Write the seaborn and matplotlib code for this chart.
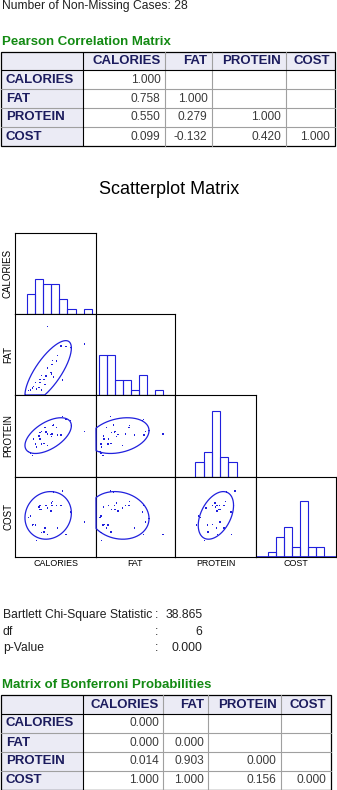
import numpy as np
import pandas as pd
import matplotlib
matplotlib.use("Agg")
import matplotlib.pyplot as plt
from matplotlib.patches import Rectangle
import seaborn as sns

# ---------------------------------------------------------------- data
VARIABLES = ["CALORIES", "FAT", "PROTEIN", "COST"]
N_CASES = 28

calories = [226, 455, 309, 341, 288, 257, 284, 255, 226, 247, 253, 263, 191, 216,
            181, 205, 154, 180, 210, 133, 123, 370, 320, 110, 140, 160, 175, 190]
fat = [39.8, 29.0, 27.9, 27.6, 22.1, 19.0, 18.6, 16.5, 14.4, 11.7, 10.6, 9.0, 9.8, 9.6,
       7.5, 7.3, 5.4, 5.6, 4.4, 2.3, 0.9, 27.0, 7.0, 0.5, 3.0, 1.5, 2.5, 1.0]
protein = [23.5, 24.8, 22.7, 32.0, 22.7, 28.4, 27.3, 23.5, 16.5, 23.0, 21.8, 28.9, 24.8, 24.6,
           24.3, 17.8, 17.3, 20.3, 27.3, 10.6, 12.0, 31.5, 34.0, 13.0, 20.3, 15.7, 22.3, 17.3]
cost = [1.65, 2.42, 3.45, 1.65, 2.05, 3.70, 3.45, 3.45, 3.30, 3.10, 3.60, 4.29, 3.20, 3.45,
        3.20, 1.80, 2.23, 3.45, 2.05, 2.23, 2.80, 3.05, 4.36, 2.70, 2.27, 1.25, 3.35, 1.75]

# lower triangle of the Pearson correlation matrix
pearson_r = [[1.000],
             [0.758, 1.000],
             [0.550, 0.279, 1.000],
             [0.099, -0.132, 0.420, 1.000]]
# lower triangle of the Bonferroni-adjusted probabilities
bonferroni_p = [[0.000],
                [0.000, 0.000],
                [0.014, 0.903, 0.000],
                [1.000, 1.000, 0.156, 0.000]]
bartlett_chi2 = 38.865
bartlett_df = 6
bartlett_p = 0.000

axis_limits = {"CALORIES": (25.7, 526.6), "FAT": (-2.1, 47.3),
               "PROTEIN": (-2.3, 46.7), "COST": (0.23, 5.23)}
bin_edges = {"CALORIES": np.arange(100, 501, 50), "FAT": np.arange(0, 41, 5),
             "PROTEIN": np.arange(10, 36, 5), "COST": np.arange(1.0, 4.51, 0.5)}
ELLIPSE_P = 0.80

# ---------------------------------------------------------------- style
sns.set_style("white")
plt.rcParams["font.family"] = ["Liberation Sans", "DejaVu Sans"]

BLUE = "#2020dd"
GREEN = "#138a13"
NAVY = "#1c1c5e"
VALUE_COLOR = "#3a3a3a"
HEADER_BG = "#ebebf5"
GRID_LINE = "#a0a0a0"

W, H = 337, 790
fig = plt.figure(figsize=(W / 100, H / 100), dpi=100)


def px_rect(x0, y0, x1, y1):
    return [x0 / W, 1 - y1 / H, (x1 - x0) / W, (y1 - y0) / H]


canvas = fig.add_axes([0, 0, 1, 1])
canvas.set_xlim(0, W)
canvas.set_ylim(H, 0)
canvas.axis("off")

canvas.text(2, 6, f"Number of Non-Missing Cases: {N_CASES}", fontsize=8.7,
            ha="left", va="center", color="#202020")


def draw_table(title, title_y, values, col_edges, row_edges):
    canvas.text(2.5, title_y, title, color=GREEN, fontsize=9.5, fontweight="bold",
                ha="left", va="center")
    x0, x1 = col_edges[0], col_edges[-1]
    y0, y1 = row_edges[0], row_edges[-1]
    canvas.add_patch(Rectangle((x0, y0), x1 - x0, row_edges[1] - y0,
                               facecolor=HEADER_BG, edgecolor="none"))
    canvas.add_patch(Rectangle((x0, row_edges[1]), col_edges[1] - x0, y1 - row_edges[1],
                               facecolor=HEADER_BG, edgecolor="none"))
    for x in col_edges[2:-1]:
        canvas.plot([x, x], [y0, y1], color=GRID_LINE, lw=0.8)
    for y in row_edges[2:-1]:
        canvas.plot([x0, x1], [y, y], color=GRID_LINE, lw=0.8)
    canvas.plot([x0, x1], [row_edges[1]] * 2, color="black", lw=0.8)
    canvas.plot([col_edges[1]] * 2, [y0, y1], color="black", lw=0.8)
    canvas.add_patch(Rectangle((x0, y0), x1 - x0, y1 - y0, facecolor="none",
                               edgecolor="black", lw=0.9))
    hy = (row_edges[0] + row_edges[1]) / 2
    for j, name in enumerate(VARIABLES):
        canvas.text(col_edges[j + 2] - 4.5, hy, name, ha="right", va="center",
                    fontsize=9.5, fontweight="bold", color=NAVY)
    for i, name in enumerate(VARIABLES):
        yc = (row_edges[i + 1] + row_edges[i + 2]) / 2
        canvas.text(6, yc, name, ha="left", va="center", fontsize=9.5,
                    fontweight="bold", color=NAVY)
        for j, v in enumerate(values[i]):
            canvas.text(col_edges[j + 2] - 4.5, yc, f"{v:.3f}", ha="right",
                        va="center", fontsize=8.6, color=VALUE_COLOR)


draw_table("Pearson Correlation Matrix", 42, pearson_r,
           [1, 82.7, 165, 212, 285.7, 334.5], [51.7, 70, 89.3, 108, 127, 146])

# ---------------------------------------------------------------- scatterplot matrix
canvas.text(169, 190, "Scatterplot Matrix", fontsize=13, ha="center", va="center",
            color="black")

data = pd.DataFrame({"CALORIES": calories, "FAT": fat, "PROTEIN": protein, "COST": cost})
col_x = [15, 96, 175, 256, 336]
row_y = [233, 314, 395, 477, 557]
COUNT_PX = 5.05
k = np.sqrt(-2 * np.log(1 - ELLIPSE_P))
t = np.linspace(0, 2 * np.pi, 400)

for i, yvar in enumerate(VARIABLES):
    for j, xvar in enumerate(VARIABLES[:i + 1]):
        ax = fig.add_axes(px_rect(col_x[j], row_y[i], col_x[j + 1], row_y[i + 1]))
        xlim = axis_limits[xvar]
        if i == j:
            sns.histplot(data=data, x=xvar, bins=bin_edges[xvar], fill=False,
                         color=BLUE, linewidth=0.8, ax=ax)
            ax.set_ylim(0, (row_y[i + 1] - row_y[i]) / COUNT_PX)
            if xvar == "COST":
                ax.axhline(0, color=BLUE, lw=1.2)
        else:
            ylim = axis_limits[yvar]
            sns.scatterplot(data=data, x=xvar, y=yvar, ax=ax, s=1.1, marker="s",
                            color=BLUE, edgecolor="none", linewidth=0, legend=False)
            mx, my = data[xvar].mean(), data[yvar].mean()
            sx, sy = data[xvar].std(), data[yvar].std()
            r = pearson_r[i][j]
            ex = mx + k * sx * np.cos(t)
            ey = my + k * sy * (r * np.cos(t) + np.sqrt(1 - r ** 2) * np.sin(t))
            ax.plot(np.clip(ex, *xlim), np.clip(ey, *ylim), color=BLUE, lw=0.9,
                    clip_on=False, zorder=5)
            ax.set_ylim(*ylim)
        ax.set_xlim(*xlim)
        ax.set(xticks=[], yticks=[], xlabel="", ylabel="")
        for s in ax.spines.values():
            s.set_visible(True)
            s.set_color("black")
            s.set_linewidth(0.8)

for i, name in enumerate(VARIABLES):
    canvas.text(8, (row_y[i] + row_y[i + 1]) / 2, name, rotation=90, fontsize=7,
                ha="center", va="center", color="black")
    canvas.text((col_x[i] + col_x[i + 1]) / 2, 563.5, name, fontsize=6.4,
                ha="center", va="center", color="black")

# ---------------------------------------------------------------- Bartlett test
stats_rows = [("Bartlett Chi-Square Statistic", f"{bartlett_chi2:.3f}", 615),
              ("df", f"{bartlett_df}", 631.7),
              ("p-Value", f"{bartlett_p:.3f}", 647.7)]
for label, value, y in stats_rows:
    canvas.text(2.7, y, label, fontsize=8.7, ha="left", va="center", color="#202020")
    canvas.text(156.7, y, ":", fontsize=8.7, ha="center", va="center", color="#202020")
    canvas.text(202.3, y, value, fontsize=8.7, ha="right", va="center", color="#202020")

draw_table("Matrix of Bonferroni Probabilities", 685, bonferroni_p,
           [1, 82.7, 163.3, 208.3, 281, 331], [695, 714, 733, 752, 771, 789.5])

fig.savefig("out.png", dpi=100)
